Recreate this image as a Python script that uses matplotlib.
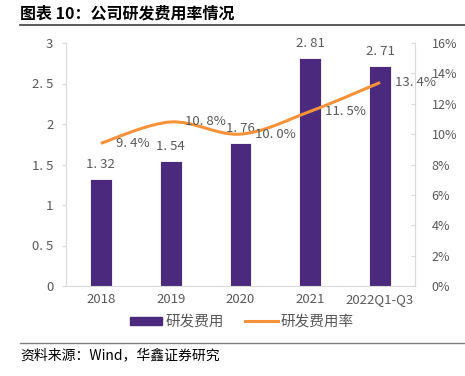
import numpy as np
import matplotlib
matplotlib.use("Agg")
import matplotlib.pyplot as plt
from matplotlib.path import Path
from matplotlib.patches import PathPatch
from matplotlib.lines import Line2D
from matplotlib.patches import Patch

plt.rcParams['font.family'] = ['Noto Sans CJK SC', 'DejaVu Sans']

years = ["2018", "2019", "2020", "2021", "2022Q1-Q3"]
rd_cost = [1.32, 1.54, 1.76, 2.81, 2.71]
rd_rate = [9.4, 10.8, 10.0, 11.5, 13.4]

bar_color = "#4B2A7E"
line_color = "#F7923A"
text_color = "#595959"
spine_color = "#D9D9D9"

fig = plt.figure(figsize=(4.65, 3.76), dpi=100)
ax = fig.add_axes([66 / 465, 1 - 286 / 376, 349 / 465, 243 / 376])
ax2 = ax.twinx()

x = np.arange(len(years))
ax.bar(x, rd_cost, width=0.31, color=bar_color, edgecolor="white", linewidth=0.6, zorder=2)
ax.set_xlim(-0.5, 4.5)
ax.set_ylim(0, 3)
ax.set_yticks([0, 0.5, 1, 1.5, 2, 2.5, 3])
ax.set_yticklabels(["0", "0. 5", "1", "1. 5", "2", "2. 5", "3"])
ax.set_xticks(x)
ax.set_xticklabels(years)
for v, c in zip(x, rd_cost):
    ax.text(v, c + 0.1, f"{c:.2f}".replace(".", ". "), ha="center", va="bottom",
            fontsize=9.5, color=text_color)

# smooth line drawn as catmull-rom bezier through data points
ax2.set_ylim(0, 16)
pts = np.column_stack([x, rd_rate]).astype(float)
verts = [pts[0]]
codes = [Path.MOVETO]
for i in range(len(pts) - 1):
    p0 = pts[max(i - 1, 0)]
    p1 = pts[i]
    p2 = pts[i + 1]
    p3 = pts[min(i + 2, len(pts) - 1)]
    c1 = p1 + (p2 - p0) / 6
    c2 = p2 - (p3 - p1) / 6
    verts += [c1, c2, p2]
    codes += [Path.CURVE4] * 3
ax2.add_patch(PathPatch(Path(verts, codes), fill=False, edgecolor=line_color, lw=2.2, zorder=3))
ax2.set_yticks(range(0, 17, 2))
ax2.set_yticklabels([f"{t}%" for t in range(0, 17, 2)])

for v, r in zip(x, rd_rate):
    ax2.text(v + 0.21, r, f"{r:.1f}%".replace(".", ". "), ha="left", va="center",
             fontsize=9.5, color=text_color, zorder=4)

for a in (ax, ax2):
    for s in a.spines.values():
        s.set_color(spine_color)
    a.spines["top"].set_visible(False)
    a.tick_params(colors=text_color, labelsize=9.5, length=3)
ax.spines["right"].set_visible(False)
ax2.spines["left"].set_visible(False)
ax2.spines["bottom"].set_visible(False)
ax.tick_params(axis="y", color=spine_color, pad=6)
ax.tick_params(axis="x", length=0, pad=5)
ax2.tick_params(axis="y", direction="in", color=spine_color, labelsize=9, pad=12)

handles = [Patch(color=bar_color), Line2D([0], [0], color=line_color, lw=2.2)]
fig.legend(handles, ["研发费用", "研发费用率"], loc="center", bbox_to_anchor=(0.52, 1 - 322 / 376),
           ncol=2, frameon=False, fontsize=10.5, labelcolor=text_color,
           handlelength=2.2, handleheight=0.45, columnspacing=1.5, handletextpad=0.2)

fig.text(20 / 465, 1 - 13 / 376, "图表 10：公司研发费用率情况", fontsize=11.5, fontweight="bold",
         ha="left", va="center", color="black")
fig.add_artist(Line2D([20 / 465, 1], [1 - 25 / 376] * 2, color="#404040", lw=1.2))
fig.add_artist(Line2D([20 / 465, 1], [1 - 343 / 376] * 2, color="#808080", lw=1.0))
fig.text(20 / 465, 1 - 355 / 376, "资料来源：Wind，华鑫证券研究", fontsize=10,
         ha="left", va="center", color="black")

fig.savefig("out.png", dpi=100)
